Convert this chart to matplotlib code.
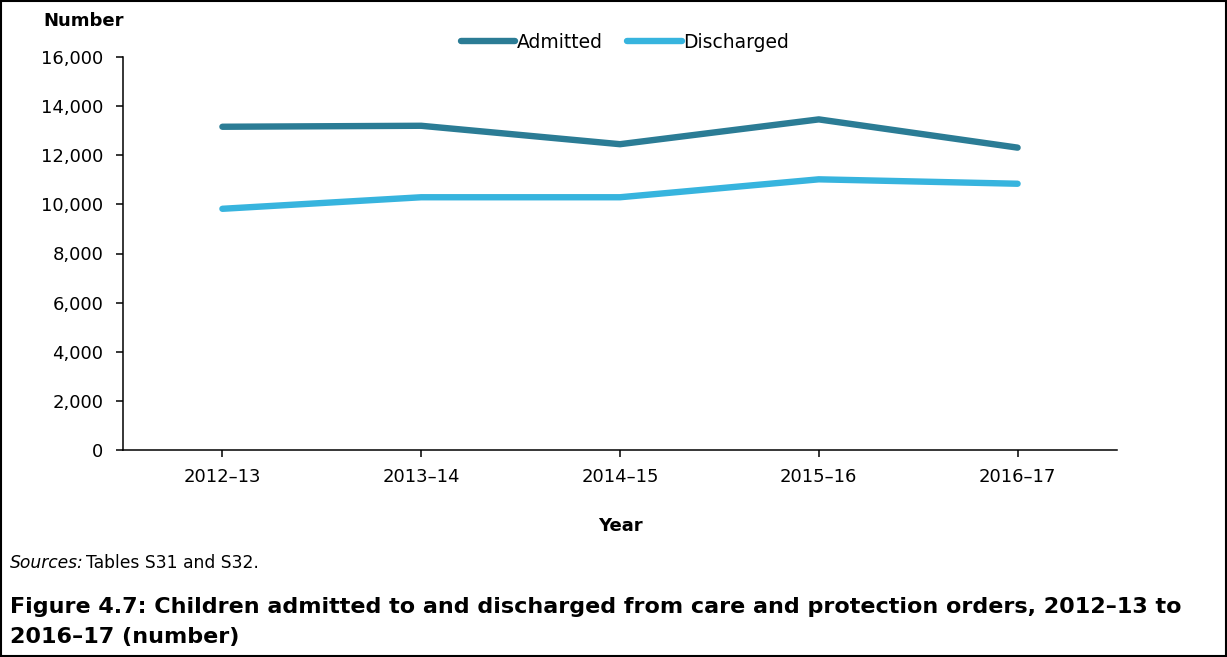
import matplotlib
matplotlib.use("Agg")
import matplotlib.pyplot as plt
from matplotlib.patches import Rectangle
from matplotlib.ticker import FuncFormatter

plt.rcParams['font.family'] = ['DejaVu Sans']

years = ["2012–13", "2013–14", "2014–15", "2015–16", "2016–17"]
admitted = [13160, 13200, 12450, 13460, 12310]
discharged = [9820, 10290, 10290, 11020, 10840]
yticks = [0, 2000, 4000, 6000, 8000, 10000, 12000, 14000, 16000]

fig = plt.figure(figsize=(12.27, 6.57), dpi=100)
ax = fig.add_axes([123/1227, 1-450/657, (1117-123)/1227, (450-57)/657])

x = list(range(len(years)))
ax.plot(x, admitted, color="#2B7C95", lw=4.6, solid_capstyle="round", label="Admitted")
ax.plot(x, discharged, color="#37B4DE", lw=4.6, solid_capstyle="round", label="Discharged")

ax.set_xlim(-0.5, len(years) - 0.5)
ax.set_ylim(0, 16000)
ax.set_yticks(yticks)
ax.yaxis.set_major_formatter(FuncFormatter(lambda v, p: f"{int(v):,}"))
ax.set_xticks(x)
ax.set_xticklabels(years)
ax.tick_params(axis="both", direction="out", length=5, width=1.1, labelsize=13, color="black")
ax.tick_params(axis="x", pad=8)
ax.tick_params(axis="y", pad=9)
for s in ["top", "right"]:
    ax.spines[s].set_visible(False)
for s in ["left", "bottom"]:
    ax.spines[s].set_linewidth(1.1)
    ax.spines[s].set_color("black")
ax.set_xlabel("Year", fontsize=13, fontweight="bold", labelpad=22)

leg = fig.legend(loc="center", bbox_to_anchor=(625/1227, 1-42/657), ncol=2, frameon=False,
                 fontsize=13.5, handlelength=2.9, handletextpad=0.1, columnspacing=1.3)

fig.text(43/1227, 1-21/657, "Number", fontsize=13, fontweight="bold", ha="left", va="center")
t1 = fig.text(10/1227, 1-563/657, "Sources:", fontsize=12.3, style="italic", ha="left", va="center")
fig.canvas.draw()
bb = t1.get_window_extent()
fig.text(bb.x1/1227 + 2/1227, 1-563/657, "Tables S31 and S32.", fontsize=12.3, ha="left", va="center")
fig.text(10/1227, 1-607/657, "Figure 4.7: Children admitted to and discharged from care and protection orders, 2012–13 to",
         fontsize=16, fontweight="bold", ha="left", va="center")
fig.text(10/1227, 1-637/657, "2016–17 (number)", fontsize=16, fontweight="bold", ha="left", va="center")

fig.add_artist(Rectangle((0.001, 0.001), 0.998, 0.998, transform=fig.transFigure,
                         fill=False, edgecolor="black", lw=1.5))

fig.savefig("out.png", dpi=100)
